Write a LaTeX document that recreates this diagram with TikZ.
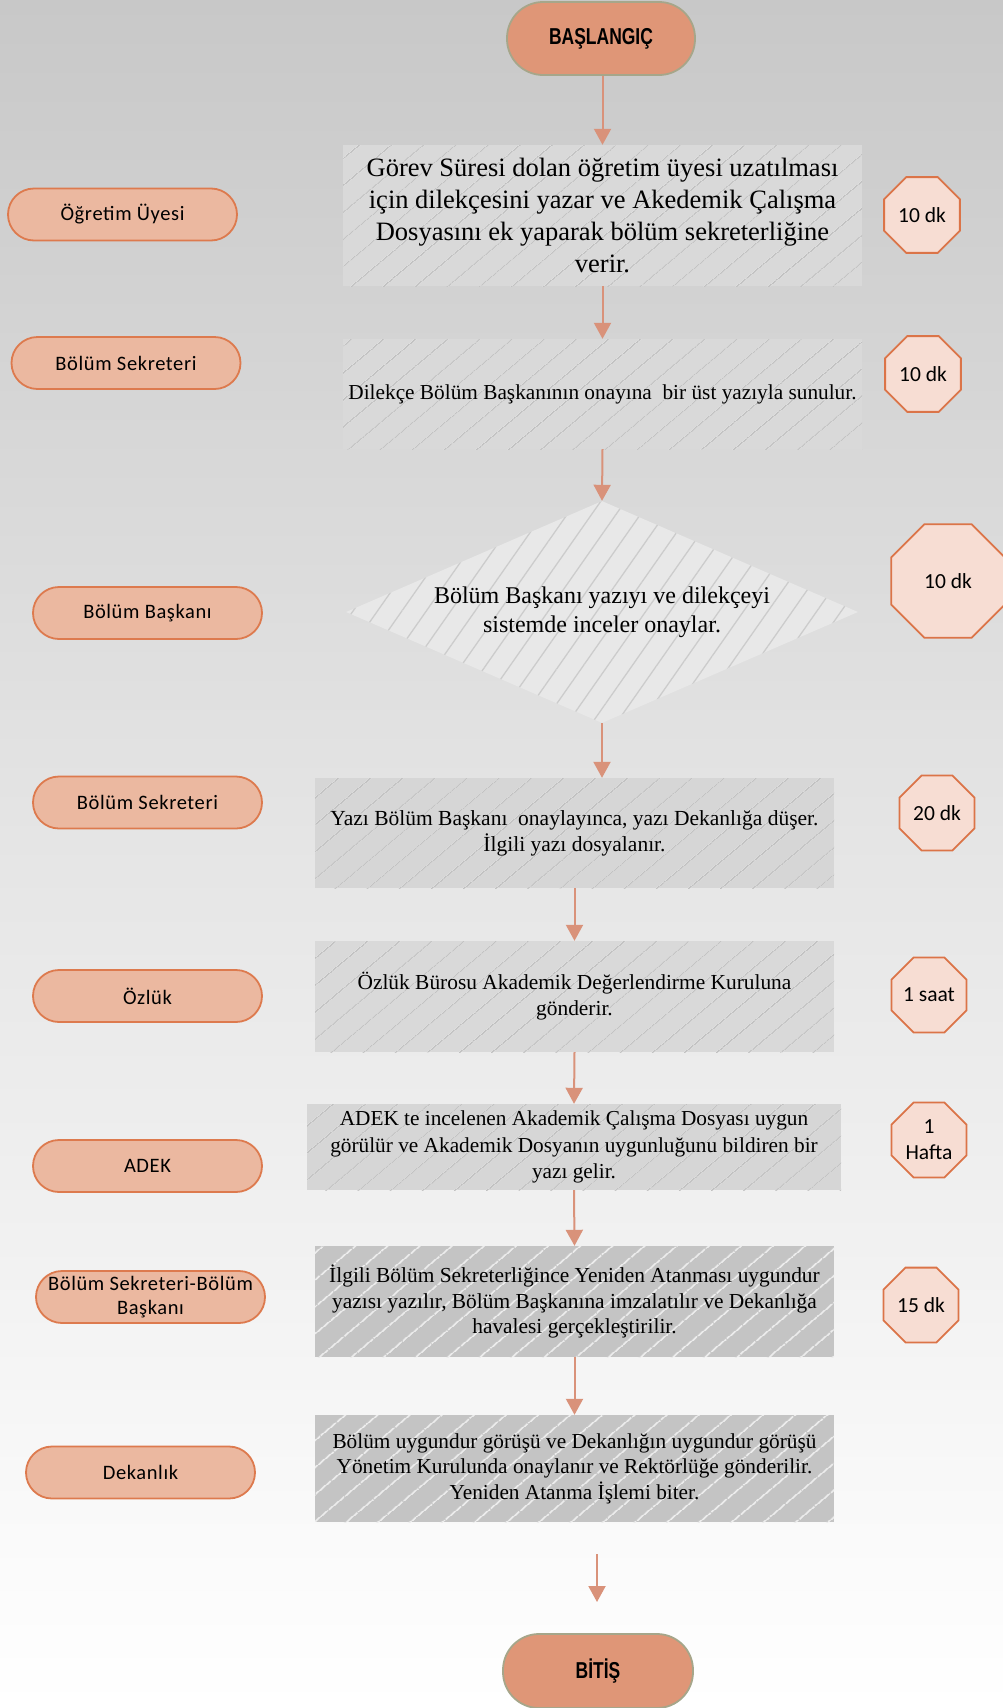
\documentclass[tikz,border=0pt]{standalone}
\usepackage{fontspec}
\setmainfont{Liberation Serif}
\newfontfamily\calfont{Carlito}[LetterSpace=3]
\newfontfamily\octfont{Carlito}
\newfontfamily\arfont{Liberation Sans}
\usetikzlibrary{shapes.geometric,arrows.meta,patterns.meta}
\definecolor{pillfill}{HTML}{EBB8A0}
\definecolor{pillline}{HTML}{DD7A4E}
\definecolor{octfill}{HTML}{F7DDD3}
\definecolor{octline}{HTML}{DB7448}
\definecolor{termfill}{HTML}{DF9677}
\definecolor{termline}{HTML}{A6A68A}
\definecolor{arrcol}{HTML}{D9927A}
\definecolor{bgtop}{HTML}{C8C8C8}
\tikzset{
  pill/.style={rectangle, rounded corners=26pt, draw=pillline, line width=1.8pt, fill=pillfill,
    minimum width=229pt, minimum height=52pt, inner sep=0pt, align=center,
    font=\calfont\fontsize{20.5}{24}\selectfont},
  term/.style={rectangle, rounded corners=36pt, draw=termline, line width=1.8pt, fill=termfill,
    minimum width=188pt, minimum height=73pt, inner sep=0pt,
    font=\arfont\bfseries\fontsize{23}{26}\selectfont},
  oct/.style={regular polygon, regular polygon sides=8, draw=octline, line width=1.8pt, fill=octfill,
    inner sep=0pt, align=center, font=\octfont\fontsize{21.5}{26}\selectfont},
  procbox/.style={rectangle, inner sep=0pt, align=center, minimum width=519pt},
  hatchA/.style={fill=#1, postaction={pattern={Lines[angle=40,distance=20.5pt,line width=1.3pt]}, pattern color=black!25}},
  hatchD/.style={fill=#1, postaction={pattern={Lines[angle=55,distance=20pt,line width=1.3pt]}, pattern color=black!20}},
  hatchB/.style={fill=#1, postaction={pattern={Lines[angle=40,distance=20.5pt,line width=1.4pt]}, pattern color=white!85!gray}},
  flow/.style={draw=arrcol, line width=2pt, -{Triangle[width=17pt,length=16pt]}},
}
\begin{document}
\begin{tikzpicture}[x=1pt,y=-1pt]
\useasboundingbox (0,0) rectangle (1003,1708);
\shade[top color=bgtop, bottom color=white, middle color=black!10] (0,0) rectangle (1003,1708);

% terminals
\node[term] (start) at (601,38.5) {\scalebox{0.76}[1]{BAŞLANGIÇ}};
\node[term, minimum width=190pt, minimum height=74pt] (end) at (598,1671) {\scalebox{0.76}[1]{BİTİŞ}};

% process boxes
\node[procbox, hatchA=black!15, minimum height=141pt, font=\fontsize{26.5}{32}\selectfont] (b1) at (602.5,215.5)
  {Görev Süresi dolan öğretim üyesi uzatılması\\için dilekçesini yazar ve Akedemik Çalışma\\Dosyasını ek yaparak bölüm sekreterliğine\\verir.};
\node[procbox, hatchA=black!15, minimum height=110pt, font=\fontsize{21.3}{24}\selectfont] (b2) at (602.5,394)
  {Dilekçe Bölüm Başkanının onayına \ bir üst yazıyla sunulur.};
\node[diamond, inner sep=0pt, aspect=2.3, minimum width=512pt, minimum height=222pt, hatchD=black!9, align=center,
  font=\fontsize{24}{29}\selectfont] (d1) at (602,612)
  {Bölüm Başkanı yazıyı ve dilekçeyi\\sistemde inceler onaylar.};
\node[procbox, hatchA=black!16, minimum height=110pt, font=\fontsize{21.5}{26}\selectfont] (b4) at (574.5,833)
  {Yazı Bölüm Başkanı \ onaylayınca, yazı Dekanlığa düşer.\\İlgili yazı dosyalanır.};
\node[procbox, hatchA=black!15, minimum height=111pt, font=\fontsize{21.4}{26}\selectfont] (b5) at (574.5,996.5)
  {Özlük Bürosu Akademik Değerlendirme Kuruluna\\gönderir.};
\node[procbox, hatchA=black!16, minimum width=534pt, minimum height=86pt, font=\fontsize{21.3}{26.5}\selectfont] (b6) at (574,1147)
  {ADEK te incelenen Akademik Çalışma Dosyası uygun\\görülür ve Akademik Dosyanın uygunluğunu bildiren bir\\yazı gelir.};
\node[procbox, hatchB=black!23, minimum height=111pt, font=\fontsize{21.4}{25.6}\selectfont] (b7) at (574.5,1301.5)
  {İlgili Bölüm Sekreterliğince Yeniden Atanması uygundur\\yazısı yazılır, Bölüm Başkanına imzalatılır ve Dekanlığa\\havalesi gerçekleştirilir.};
\node[procbox, hatchB=black!23, minimum height=107pt, font=\fontsize{21.3}{25.6}\selectfont] (b8) at (574.5,1468.5)
  {Bölüm uygundur görüşü ve Dekanlığın uygundur görüşü\\Yönetim Kurulunda onaylanır ve Rektörlüğe gönderilir.\\Yeniden Atanma İşlemi biter.};

% role pills
\node[pill] (p1) at (122.5,214.5) {Öğretim Üyesi};
\node[pill] (p2) at (126,363) {Bölüm Sekreteri};
\node[pill] (p3) at (147.5,613) {Bölüm Başkanı};
\node[pill] (p4) at (147.5,802.5) {Bölüm Sekreteri};
\node[pill] (p5) at (147.5,996) {Özlük};
\node[pill] (p6) at (147.5,1166) {ADEK};
\node[pill] (p7) at (150.5,1297) {Bölüm Sekreteri-Bölüm\\Başkanı};
\node[pill] (p8) at (140.5,1472.5) {Dekanlık};

% durations
\node[oct, minimum size=82pt] (o1) at (922,215) {10 dk};
\node[oct, minimum size=82pt] (o2) at (923,374) {10 dk};
\node[oct, minimum size=123pt] (o3) at (948,581) {10 dk};
\node[oct, minimum size=81pt] (o4) at (937,813) {20 dk};
\node[oct, minimum size=81pt] (o5) at (929,995) {1 saat};
\node[oct, minimum size=81pt] (o6) at (929,1140) {1\\Hafta};
\node[oct, minimum size=81pt] (o7) at (921,1305) {15 dk};

% connectors
\coordinate (fa) at (597,1554);
\coordinate (fb) at (597,1602);
\draw[flow] (start.south -| b1.north) -- (b1.north);
\draw[flow] (b1.south) -- (b2.north);
\draw[flow] (b2.south) -- (d1.north);
\draw[flow] (d1.south) -- (d1.south |- b4.north);
\draw[flow] (b4.south) -- (b5.north);
\draw[flow] (b5.south) -- (b6.north);
\draw[flow] (b6.south) -- (b7.north);
\draw[flow] (b7.south) -- (b8.north);
\draw[flow] (fa) -- (fb);
\end{tikzpicture}
\end{document}
